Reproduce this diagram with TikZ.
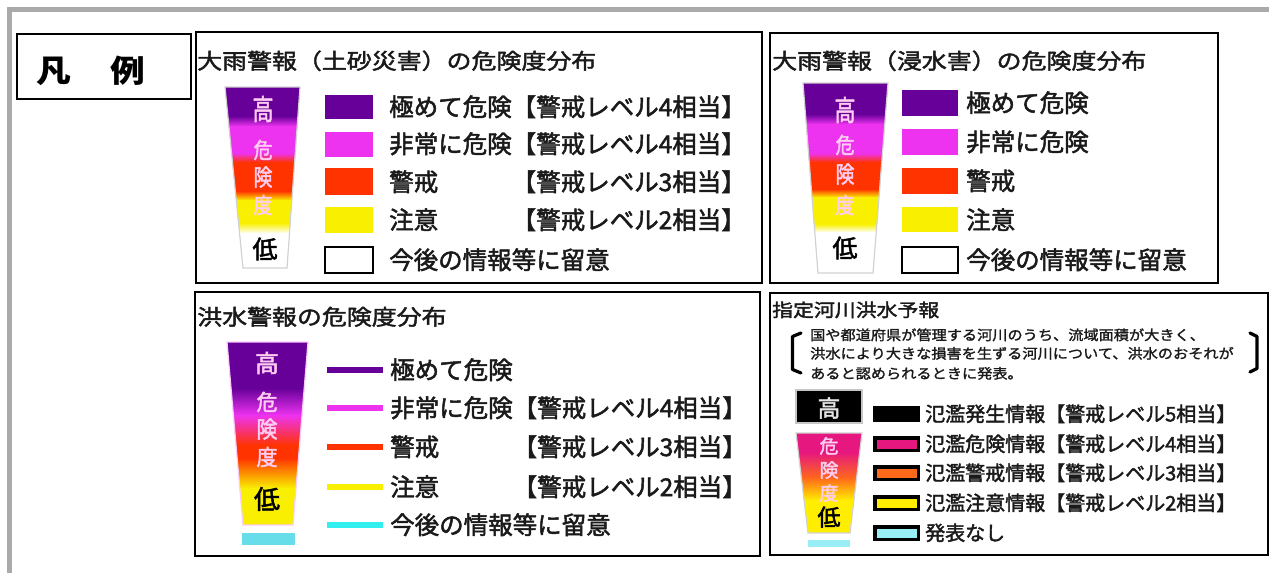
\documentclass[tikz,border=0pt]{standalone}
\usepackage{fontspec}
\usepackage{graphicx}
\newfontfamily\jp[FakeBold=2]{Noto Sans CJK JP}
\newfontfamily\jpw[FakeStretch=1.16,FakeBold=2]{Noto Sans CJK JP}
\newfontfamily\jpn[FakeStretch=1.1,FakeBold=1.5]{Noto Sans CJK JP}
\newfontfamily\jpb[FakeStretch=1.12]{Noto Sans CJK JP}
\definecolor{kpurple}{HTML}{660099}
\definecolor{kmag}{HTML}{EE33F0}
\definecolor{kred}{HTML}{FF3300}
\definecolor{kyel}{HTML}{F8F000}
\definecolor{kpink}{HTML}{E6177F}
\definecolor{korange}{HTML}{FF6A1A}
\definecolor{kyelb}{HTML}{FFEE00}
\definecolor{kcyan}{HTML}{33EEEE}
\definecolor{kcyanbar}{HTML}{66DDE8}
\definecolor{kcyanb}{HTML}{99EEF5}
\definecolor{framegray}{HTML}{AAAAAA}
\definecolor{barpink}{HTML}{FFCCF2}
\definecolor{txt}{HTML}{1A1A1A}
\begin{document}
\begin{tikzpicture}[x=1pt,y=-1pt,
  every node/.style={inner sep=0pt},
  leg/.style={anchor=west, text=txt, font=\jp\fontsize{24.5}{25}\selectfont, text height=19.6pt, text depth=1.5pt},
  ttl/.style={anchor=west, text=txt, font=\jpw\fontsize{21.5}{22}\selectfont, text height=17.2pt, text depth=1.3pt},
  legs/.style={anchor=west, text=txt, font=\jp\fontsize{20}{21}\selectfont, text height=16pt, text depth=1.2pt},
  ttls/.style={anchor=west, text=txt, font=\jpw\fontsize{18}{19}\selectfont, text height=14.4pt, text depth=1.1pt},
  note/.style={anchor=west, text=txt, font=\jpn\fontsize{13.8}{14}\selectfont, text height=11pt, text depth=0.8pt},
  panel/.style={draw=black, line width=1.6pt},
  barch/.style={text=barpink, font=\jp\fontsize{21}{21}\selectfont},
  lowch/.style={text=black, font=\jp\fontsize{25}{25}\selectfont},
  glow/.style={draw=gray!35, line width=1.2pt},
  lineswatch/.style={line width=5.5pt},
  boxswatch/.style={draw=black, line width=3.5pt}
]
\useasboundingbox (0,0) rectangle (1269,573);
\fill[white] (0,0) rectangle (1269,573);

% outer gray frame
\draw[framegray, line width=4.5pt] (9.5,573) -- (9.5,9.5) -- (1269,9.5);

% legend label
\draw[line width=1.6pt] (17,34) rectangle (191,99);
\node[font=\jpb\bfseries\fontsize{31}{32}\selectfont] (hanrei) at (91,71) {凡\hspace{40pt}例};

% ================= panel 1 =================
\draw[panel] (196,32) rectangle (762,283);
\node[ttl] (t1) at (197,61) {大雨警報（土砂災害）の危険度分布};
\begin{scope}
  \clip (225,87) -- (300,87) -- (287,268) -- (243,268) -- cycle;
  \fill[kpurple] (220,87) rectangle (305,116.5);
  \shade[top color=kpurple,bottom color=kmag] (220,116) rectangle (305,126.5);
  \fill[kmag] (220,126) rectangle (305,153.5);
  \shade[top color=kmag,bottom color=kred] (220,153) rectangle (305,162.5);
  \fill[kred] (220,162) rectangle (305,191.5);
  \shade[top color=kred,bottom color=kyel] (220,191) rectangle (305,200.5);
  \fill[kyel] (220,200) rectangle (305,223.5);
  \shade[top color=kyel,bottom color=white] (220,223) rectangle (305,233.5);
  \fill[white] (220,233) rectangle (305,268);
\end{scope}
\draw[glow] (225,87) -- (300,87) -- (287,268) -- (243,268) -- cycle;
\node[barch] (p1a) at (263,109) {\scalebox{1}[1.35]{高}};
\node[barch] (p1b) at (263,150) {\scalebox{0.9}[1.05]{危}};
\node[barch] (p1c) at (263,177) {\scalebox{0.9}[1.1]{険}};
\node[barch] (p1d) at (263,205) {\scalebox{0.9}[1.05]{度}};
\node[lowch] (p1e) at (265,249) {低};
\fill[kpurple] (325,95) rectangle (373,119);
\fill[kmag] (325,132) rectangle (373,157);
\fill[kred] (325,168) rectangle (373,195);
\fill[kyel] (325,207) rectangle (373,233);
\draw[line width=1.5pt] (325,247) rectangle (373,273);
\node[leg] (r11) at (389,107) {極めて危険【警戒レベル4相当】};
\node[leg] (r12) at (389,144) {非常に危険【警戒レベル4相当】};
\node[leg] (r13) at (389,182) {警戒};
\node[leg] (r13b) at (511.5,182) {【警戒レベル3相当】};
\node[leg] (r14) at (389,220) {注意};
\node[leg] (r14b) at (511.5,220) {【警戒レベル2相当】};
\node[leg] (r15) at (389,260) {今後の情報等に留意};

% ================= panel 2 =================
\draw[panel] (770,33) rectangle (1218,283);
\node[ttl] (t2) at (772,61) {大雨警報（浸水害）の危険度分布};
\begin{scope}
  \clip (803,83) -- (888,83) -- (873,273) -- (818,273) -- cycle;
  \fill[kpurple] (795,83) rectangle (895,114.5);
  \shade[top color=kpurple,bottom color=kmag] (795,114) rectangle (895,124.5);
  \fill[kmag] (795,124) rectangle (895,153.5);
  \shade[top color=kmag,bottom color=kred] (795,153) rectangle (895,162.5);
  \fill[kred] (795,162) rectangle (895,189.5);
  \shade[top color=kred,bottom color=kyel] (795,189) rectangle (895,197.5);
  \fill[kyel] (795,197) rectangle (895,224.5);
  \shade[top color=kyel,bottom color=white] (795,224) rectangle (895,232.5);
  \fill[white] (795,232) rectangle (895,273);
\end{scope}
\draw[glow] (803,83) -- (888,83) -- (873,273) -- (818,273) -- cycle;
\node[barch] (p2a) at (845,110) {\scalebox{1}[1.35]{高}};
\node[barch] (p2b) at (845,145) {\scalebox{0.9}[1.05]{危}};
\node[barch] (p2c) at (845,174) {\scalebox{0.9}[1.1]{険}};
\node[barch] (p2d) at (845,205) {\scalebox{0.9}[1.05]{度}};
\node[lowch] (p2e) at (845,248) {低};
\fill[kpurple] (902,90) rectangle (958,116);
\fill[kmag] (902,129) rectangle (958,155);
\fill[kred] (902,168) rectangle (958,194);
\fill[kyel] (902,207) rectangle (958,232);
\draw[line width=1.5pt] (902,247) rectangle (958,273);
\node[leg] (r21) at (966,103) {極めて危険};
\node[leg] (r22) at (966,142) {非常に危険};
\node[leg] (r23) at (966,181) {警戒};
\node[leg] (r24) at (966,220) {注意};
\node[leg] (r25) at (966,260) {今後の情報等に留意};

% ================= panel 3 =================
\draw[panel] (195,292) rectangle (760,556);
\node[ttl] (t3) at (197,317) {洪水警報の危険度分布};
\begin{scope}
  \clip (227,342) -- (308,342) -- (293,525) -- (243,525) -- cycle;
  \fill[kpurple] (220,342) rectangle (315,388.5);
  \shade[top color=kpurple,bottom color=kmag] (220,388) rectangle (315,415.5);
  \shade[top color=kmag,bottom color=kred] (220,415) rectangle (315,445.5);
  \fill[kred] (220,445) rectangle (315,458.5);
  \shade[top color=kred,bottom color=kyel] (220,458) rectangle (315,488.5);
  \fill[kyel] (220,488) rectangle (315,525);
\end{scope}
\draw[glow, draw=kmag!25] (227,342) -- (308,342) -- (293,525) -- (243,525) -- cycle;
\fill[kcyanbar] (242,533) rectangle (295,545);
\node[barch, font=\jp\fontsize{24}{24}\selectfont] (p3a) at (267,363) {高};
\node[barch] (p3b) at (267,402) {\scalebox{1}[1.05]{危}};
\node[barch] (p3c) at (267,429) {\scalebox{1}[1.1]{険}};
\node[barch] (p3d) at (267,457) {\scalebox{1}[1.05]{度}};
\node[lowch, font=\jp\fontsize{26}{26}\selectfont] (p3e) at (267,499) {低};
\draw[lineswatch, kpurple] (327,370) -- (383,370);
\draw[lineswatch, kmag] (327,408) -- (383,408);
\draw[lineswatch, kred] (327,447) -- (383,447);
\draw[lineswatch, kyel] (327,487) -- (383,487);
\draw[lineswatch, kcyan] (327,525) -- (383,525);
\node[leg] (r31) at (390,370) {極めて危険};
\node[leg] (r32) at (390,408) {非常に危険【警戒レベル4相当】};
\node[leg] (r33) at (390,447) {警戒};
\node[leg] (r33b) at (512.5,447) {【警戒レベル3相当】};
\node[leg] (r34) at (390,487) {注意};
\node[leg] (r34b) at (512.5,487) {【警戒レベル2相当】};
\node[leg] (r35) at (390,525) {今後の情報等に留意};

% ================= panel 4 =================
\draw[panel] (770,293) rectangle (1268,555);
\node[ttls] (t4) at (772,310) {指定河川洪水予報};
\draw[line width=3.2pt, line cap=round, line join=round] (801,333) -- (792.5,336.5) -- (792.5,369.5) -- (801,373);
\draw[line width=3.2pt, line cap=round, line join=round] (1250,333) -- (1257,336.5) -- (1257,368.5) -- (1250,372);
\node[note] (n1) at (810,335) {国や都道府県が管理する河川のうち、流域面積が大きく、};
\node[note] (n2) at (810,353.5) {洪水により大きな損害を生ずる河川について、洪水のおそれが};
\node[note] (n3) at (810,373.5) {あると認められるときに発表。};
\fill[black] (796,390) rectangle (862,423);
\draw[glow, draw=gray!45] (796,390) rectangle (862,423);
\begin{scope}
  \clip (796,433) -- (862,433) -- (850,533) -- (808,533) -- cycle;
  \fill[kpink] (790,433) rectangle (870,452.5);
  \shade[top color=kpink,bottom color=korange] (790,452) rectangle (870,478.5);
  \shade[top color=korange,bottom color=kyelb] (790,478) rectangle (870,500.5);
  \fill[kyelb] (790,500) rectangle (870,533);
\end{scope}
\draw[glow] (796,433) -- (862,433) -- (850,533) -- (808,533) -- cycle;
\fill[kcyanb] (808,540) rectangle (850,547);
\node[barch, text=gray!20, font=\jp\fontsize{23}{23}\selectfont] (p4a) at (829,408) {高};
\node[barch, font=\jp\fontsize{19}{19}\selectfont] (p4b) at (829,446) {危};
\node[barch, font=\jp\fontsize{19}{19}\selectfont] (p4c) at (829,470) {険};
\node[barch, font=\jp\fontsize{19}{19}\selectfont] (p4d) at (829,493) {度};
\node[lowch, font=\jp\fontsize{23}{23}\selectfont] (p4e) at (829,517) {低};
\fill[black] (873,406) rectangle (920,422);
\draw[boxswatch, fill=kpink] (874.75,437.75) rectangle (918.25,450.25);
\draw[boxswatch, fill=korange] (874.75,466.75) rectangle (918.25,479.25);
\draw[boxswatch, fill=kyelb] (874.75,496.75) rectangle (918.25,509.25);
\draw[boxswatch, fill=kcyanb] (874.75,526.75) rectangle (918.25,539.25);
\node[legs] (r41) at (925,414) {氾濫発生情報【警戒レベル5相当】};
\node[legs] (r42) at (925,444) {氾濫危険情報【警戒レベル4相当】};
\node[legs] (r43) at (925,473) {氾濫警戒情報【警戒レベル3相当】};
\node[legs] (r44) at (925,503) {氾濫注意情報【警戒レベル2相当】};
\node[legs] (r45) at (925,533) {発表なし};
\end{tikzpicture}
\end{document}
